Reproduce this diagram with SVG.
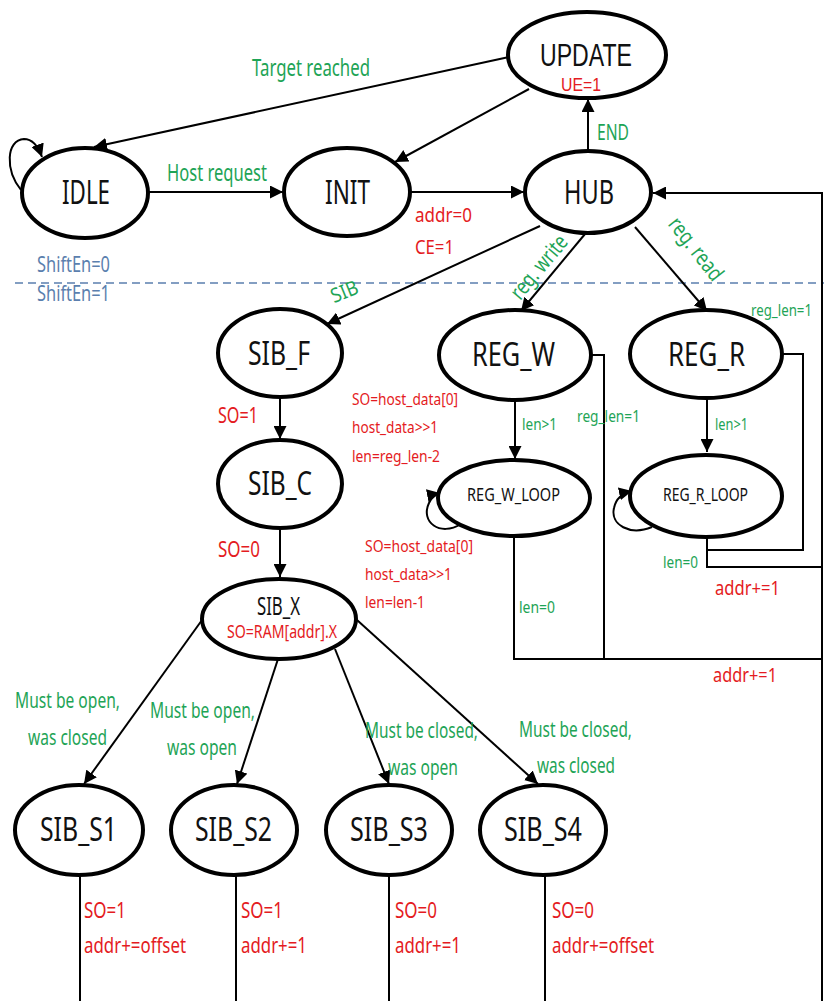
<svg xmlns="http://www.w3.org/2000/svg" width="824" height="1001" viewBox="0 0 824 1001">
<style>
text{font-family:"Noto Sans","Liberation Sans",sans-serif}
#UPDATE text{font-family:"Liberation Sans","Noto Sans",sans-serif}
.st{fill:#fff;stroke:#000;stroke-width:4}
.ln{fill:none;stroke:#000;stroke-width:2}
.g{fill:#1ea456}
.r{fill:#e41b22}
.b{fill:#5b7fae}
.k{fill:#111}
</style>
<defs>
<marker id="ah" viewBox="0 0 10 10" refX="10" refY="5" markerWidth="6.5" markerHeight="6.5" orient="auto" markerUnits="strokeWidth">
<path d="M0,0 L10,5 L0,10 z" fill="#000"/>
</marker>
</defs>
<rect width="824" height="1001" fill="#fff"/>
<line x1="15" y1="283" x2="824" y2="283" stroke="#5b7fae" stroke-width="1.5" stroke-dasharray="8,5"/>
<text class="b" x="37" y="272" font-size="22" textLength="73" lengthAdjust="spacingAndGlyphs">ShiftEn=0</text>
<text class="b" x="37" y="301" font-size="22" textLength="73" lengthAdjust="spacingAndGlyphs">ShiftEn=1</text>

<g id="connectors">
<path class="ln" d="M509 57 L94 147" marker-end="url(#ah)"/>
<path class="ln" d="M529 89 L395 162" marker-end="url(#ah)"/>
<path class="ln" d="M21 190 C5 170,6 140,24 139 C33 139,38 146,42 157" marker-end="url(#ah)"/>
<path class="ln" d="M148 192 H283" marker-end="url(#ah)"/>
<path class="ln" d="M410 192 H524" marker-end="url(#ah)"/>
<path class="ln" d="M588 150 V99" marker-end="url(#ah)"/>
<path class="ln" d="M540 226 L327 324" marker-end="url(#ah)"/>
<path class="ln" d="M585 234 L521 311" marker-end="url(#ah)"/>
<path class="ln" d="M635 227 L707 311" marker-end="url(#ah)"/>
<path class="ln" d="M280 397 V439" marker-end="url(#ah)"/>
<path class="ln" d="M280 529 V577" marker-end="url(#ah)"/>
<path class="ln" d="M515 401 V459" marker-end="url(#ah)"/>
<path class="ln" d="M707 399 V452" marker-end="url(#ah)"/>
<path class="ln" d="M461 524 C440 537,420 522,429 503 C432 497,435 494,440 493" marker-end="url(#ah)"/>
<path class="ln" d="M652 527 C630 536,610 525,614 508 C616 498,623 493,632 491" marker-end="url(#ah)"/>
<path class="ln" d="M591 355 H604 V659"/>
<path class="ln" d="M514 537 V659 H822"/>
<path class="ln" d="M783 354 H803 V550 H707"/>
<path class="ln" d="M707 538 V567 H822"/>
<path class="ln" d="M822 1001 V193 H653" marker-end="url(#ah)"/>
<path class="ln" d="M202 620 L84 784" marker-end="url(#ah)"/>
<path class="ln" d="M278 659 L237 784" marker-end="url(#ah)"/>
<path class="ln" d="M335 649 L389 784" marker-end="url(#ah)"/>
<path class="ln" d="M357 620 L538 784" marker-end="url(#ah)"/>
<path class="ln" d="M80 875 V1001"/>
<path class="ln" d="M236 875 V1001"/>
<path class="ln" d="M389 875 V1001"/>
<path class="ln" d="M545 875 V1001"/>
</g>

<g id="edge-labels">
<text class="g" x="252" y="76" font-size="23" textLength="118" lengthAdjust="spacingAndGlyphs">Target reached</text>
<text class="g" x="167" y="181" font-size="23" textLength="100" lengthAdjust="spacingAndGlyphs">Host request</text>
<text class="r" x="415" y="222" font-size="19" textLength="57" lengthAdjust="spacingAndGlyphs">addr=0</text>
<text class="r" x="415" y="254" font-size="19" textLength="39" lengthAdjust="spacingAndGlyphs">CE=1</text>
<text class="g" x="597" y="140" font-size="21" textLength="32" lengthAdjust="spacingAndGlyphs">END</text>
<text class="g" transform="translate(347,298) rotate(-22)" x="-14" y="0" font-size="20" textLength="28" lengthAdjust="spacingAndGlyphs">SIB</text>
<text class="g" transform="translate(540,268) rotate(-50)" x="-38" y="6" font-size="22" textLength="76" lengthAdjust="spacingAndGlyphs">reg. write</text>
<text class="g" transform="translate(686,258) rotate(52)" x="-38" y="-6" font-size="22" textLength="74" lengthAdjust="spacingAndGlyphs">reg. read</text>
<text class="r" x="218" y="423" font-size="22" textLength="40" lengthAdjust="spacingAndGlyphs">SO=1</text>
<text class="r" x="218" y="557" font-size="22" textLength="42" lengthAdjust="spacingAndGlyphs">SO=0</text>
<text class="r" x="352" y="405" font-size="16" textLength="106" lengthAdjust="spacingAndGlyphs">SO=host_data[0]</text>
<text class="r" x="352" y="433" font-size="16" textLength="86" lengthAdjust="spacingAndGlyphs">host_data&gt;&gt;1</text>
<text class="r" x="352" y="462" font-size="16" textLength="88" lengthAdjust="spacingAndGlyphs">len=reg_len-2</text>
<text class="g" x="522" y="430" font-size="17" textLength="35" lengthAdjust="spacingAndGlyphs">len&gt;1</text>
<text class="g" x="577" y="422" font-size="16" textLength="63" lengthAdjust="spacingAndGlyphs">reg_len=1</text>
<text class="r" x="365" y="552" font-size="16" textLength="108" lengthAdjust="spacingAndGlyphs">SO=host_data[0]</text>
<text class="r" x="365" y="580" font-size="16" textLength="87" lengthAdjust="spacingAndGlyphs">host_data&gt;&gt;1</text>
<text class="r" x="365" y="608" font-size="16" textLength="60" lengthAdjust="spacingAndGlyphs">len=len-1</text>
<text class="g" x="519" y="613" font-size="17" textLength="36" lengthAdjust="spacingAndGlyphs">len=0</text>
<text class="g" x="751" y="316" font-size="16" textLength="61" lengthAdjust="spacingAndGlyphs">reg_len=1</text>
<text class="g" x="715" y="430" font-size="17" textLength="33" lengthAdjust="spacingAndGlyphs">len&gt;1</text>
<text class="g" x="663" y="568" font-size="17" textLength="35" lengthAdjust="spacingAndGlyphs">len=0</text>
<text class="r" x="715" y="595" font-size="20" textLength="65" lengthAdjust="spacingAndGlyphs">addr+=1</text>
<text class="r" x="713" y="682" font-size="20" textLength="64" lengthAdjust="spacingAndGlyphs">addr+=1</text>
<text class="g" x="15" y="708" font-size="21" textLength="105" lengthAdjust="spacingAndGlyphs">Must be open,</text>
<text class="g" x="28" y="745" font-size="21" textLength="79" lengthAdjust="spacingAndGlyphs">was closed</text>
<text class="g" x="150" y="718" font-size="21" textLength="105" lengthAdjust="spacingAndGlyphs">Must be open,</text>
<text class="g" x="167" y="755" font-size="21" textLength="70" lengthAdjust="spacingAndGlyphs">was open</text>
<text class="g" x="365" y="738" font-size="21" textLength="113" lengthAdjust="spacingAndGlyphs">Must be closed,</text>
<text class="g" x="388" y="775" font-size="21" textLength="70" lengthAdjust="spacingAndGlyphs">was open</text>
<text class="g" x="519" y="737" font-size="21" textLength="113" lengthAdjust="spacingAndGlyphs">Must be closed,</text>
<text class="g" x="537" y="773" font-size="21" textLength="78" lengthAdjust="spacingAndGlyphs">was closed</text>
<text class="r" x="84" y="918" font-size="22" textLength="42" lengthAdjust="spacingAndGlyphs">SO=1</text>
<text class="r" x="84" y="953" font-size="22" textLength="102" lengthAdjust="spacingAndGlyphs">addr+=offset</text>
<text class="r" x="241" y="918" font-size="22" textLength="42" lengthAdjust="spacingAndGlyphs">SO=1</text>
<text class="r" x="241" y="953" font-size="22" textLength="66" lengthAdjust="spacingAndGlyphs">addr+=1</text>
<text class="r" x="395" y="918" font-size="22" textLength="42" lengthAdjust="spacingAndGlyphs">SO=0</text>
<text class="r" x="395" y="953" font-size="22" textLength="66" lengthAdjust="spacingAndGlyphs">addr+=1</text>
<text class="r" x="552" y="918" font-size="22" textLength="42" lengthAdjust="spacingAndGlyphs">SO=0</text>
<text class="r" x="552" y="953" font-size="22" textLength="102" lengthAdjust="spacingAndGlyphs">addr+=offset</text>
</g>

<g id="UPDATE"><ellipse class="st" cx="587" cy="55" rx="79" ry="43"/><text class="k" x="540" y="66" font-size="32" textLength="92" lengthAdjust="spacingAndGlyphs">UPDATE</text><text class="r" x="561" y="91" font-size="18" textLength="40" lengthAdjust="spacingAndGlyphs">UE=1</text></g>
<g id="IDLE"><ellipse class="st" cx="85" cy="193" rx="63" ry="45"/><text class="k" x="62" y="204" font-size="33" textLength="48" lengthAdjust="spacingAndGlyphs">IDLE</text></g>
<g id="INIT"><ellipse class="st" cx="347" cy="192" rx="63" ry="44"/><text class="k" x="325" y="204" font-size="33" textLength="45" lengthAdjust="spacingAndGlyphs">INIT</text></g>
<g id="HUB"><ellipse class="st" cx="588" cy="192" rx="63" ry="41"/><text class="k" x="564" y="204" font-size="33" textLength="50" lengthAdjust="spacingAndGlyphs">HUB</text></g>
<g id="SIB_F"><ellipse class="st" cx="280" cy="353" rx="62" ry="44"/><text class="k" x="248" y="365" font-size="33" textLength="62" lengthAdjust="spacingAndGlyphs">SIB_F</text></g>
<g id="SIB_C"><ellipse class="st" cx="280" cy="484" rx="62" ry="44"/><text class="k" x="248" y="495" font-size="33" textLength="64" lengthAdjust="spacingAndGlyphs">SIB_C</text></g>
<g id="SIB_X"><ellipse class="st" cx="279" cy="619" rx="77" ry="40"/><text class="k" x="257" y="615" font-size="25" textLength="43" lengthAdjust="spacingAndGlyphs">SIB_X</text><text class="r" x="227" y="638" font-size="18" textLength="110" lengthAdjust="spacingAndGlyphs">SO=RAM[addr].X</text></g>
<g id="REG_W"><ellipse class="st" cx="515" cy="355" rx="76" ry="45"/><text class="k" x="472" y="366" font-size="33" textLength="83" lengthAdjust="spacingAndGlyphs">REG_W</text></g>
<g id="REG_W_LOOP"><ellipse class="st" cx="514" cy="498" rx="76" ry="38"/><text class="k" x="467" y="501" font-size="18" textLength="93" lengthAdjust="spacingAndGlyphs">REG_W_LOOP</text></g>
<g id="REG_R"><ellipse class="st" cx="706" cy="354" rx="76" ry="44"/><text class="k" x="668" y="366" font-size="33" textLength="77" lengthAdjust="spacingAndGlyphs">REG_R</text></g>
<g id="REG_R_LOOP"><ellipse class="st" cx="706" cy="496" rx="76" ry="41"/><text class="k" x="663" y="501" font-size="18" textLength="85" lengthAdjust="spacingAndGlyphs">REG_R_LOOP</text></g>
<g id="SIB_S1"><ellipse class="st" cx="79" cy="830" rx="64" ry="45"/><text class="k" x="40" y="841" font-size="33" textLength="77" lengthAdjust="spacingAndGlyphs">SIB_S1</text></g>
<g id="SIB_S2"><ellipse class="st" cx="234" cy="830" rx="63" ry="45"/><text class="k" x="195" y="841" font-size="33" textLength="77" lengthAdjust="spacingAndGlyphs">SIB_S2</text></g>
<g id="SIB_S3"><ellipse class="st" cx="389" cy="830" rx="63" ry="45"/><text class="k" x="350" y="841" font-size="33" textLength="78" lengthAdjust="spacingAndGlyphs">SIB_S3</text></g>
<g id="SIB_S4"><ellipse class="st" cx="543" cy="830" rx="63" ry="45"/><text class="k" x="504" y="841" font-size="33" textLength="78" lengthAdjust="spacingAndGlyphs">SIB_S4</text></g>
</svg>
